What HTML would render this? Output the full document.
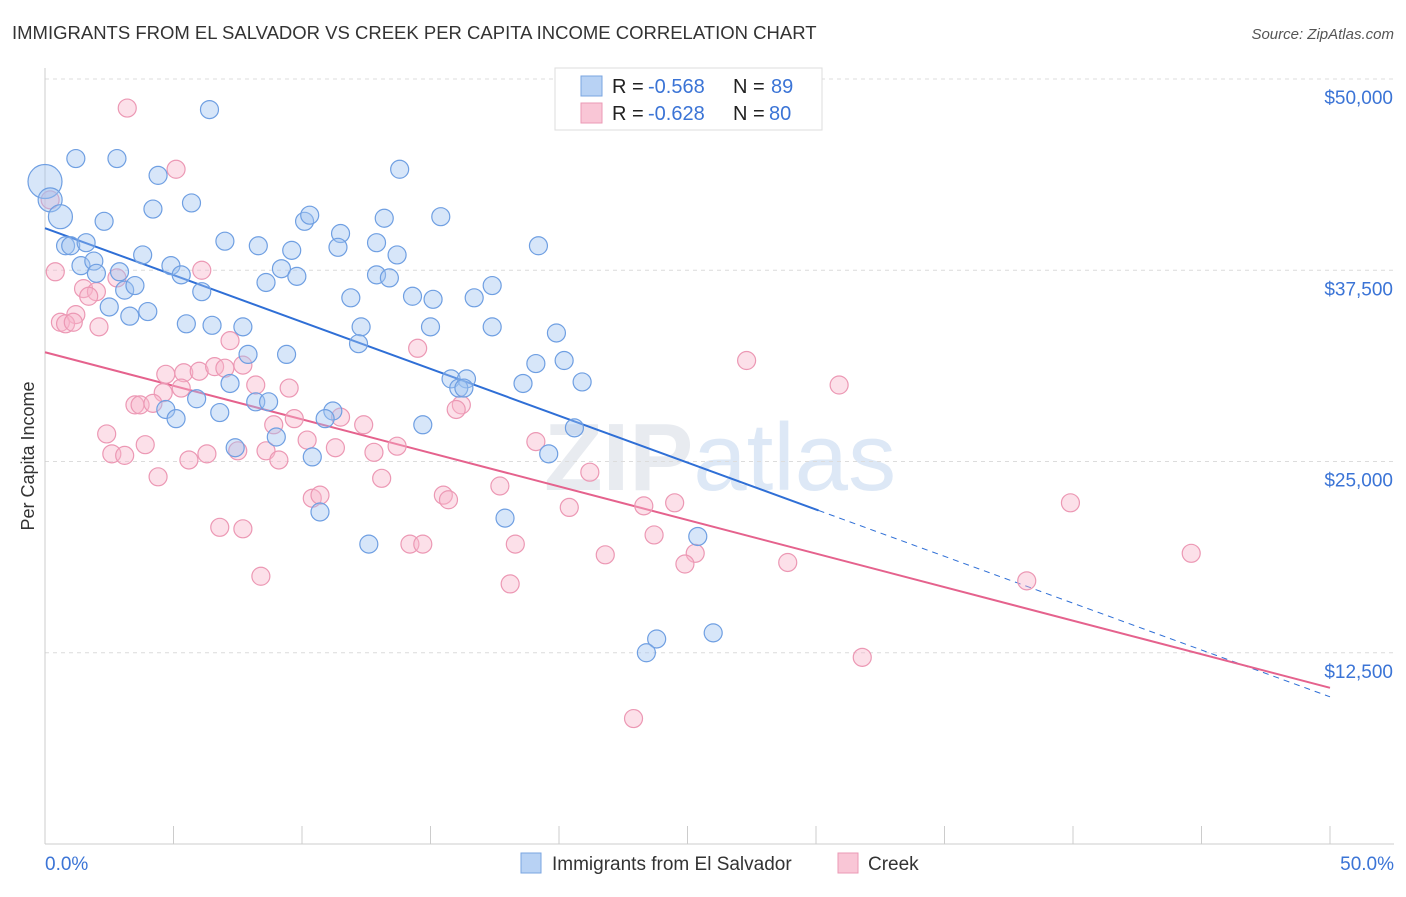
<!DOCTYPE html>
<html><head><meta charset="utf-8"><style>
body{margin:0;background:#fff;font-family:"Liberation Sans",sans-serif;}
svg text{font-family:"Liberation Sans",sans-serif;}
</style></head><body>
<svg id="chart" width="1406" height="892" viewBox="0 0 1406 892" xmlns="http://www.w3.org/2000/svg">
<text x="12" y="39" font-size="18.5" fill="#333">IMMIGRANTS FROM EL SALVADOR VS CREEK PER CAPITA INCOME CORRELATION CHART</text>
<text x="1394" y="39" font-size="15" fill="#555" font-style="italic" text-anchor="end">Source: ZipAtlas.com</text>
<text x="720" y="490" font-size="96" fill="#e8ebf0" text-anchor="middle" font-weight="bold">ZIP<tspan fill="#dde8f6" font-weight="normal">atlas</tspan></text>
<g id="grid"></g>
<g id="axes"></g>
<g id="lines"></g>
<g id="pts"></g>
<text transform="translate(34,456) rotate(-90)" font-size="18" fill="#333" text-anchor="middle">Per Capita Income</text>
<g>
<rect x="555" y="68" width="267" height="62" fill="#fff" stroke="#ddd"/>
<rect x="581" y="76" width="21" height="20" fill="#b8d2f4" stroke="#7aa5e0"/>
<rect x="581" y="103" width="21" height="20" fill="#f9c6d6" stroke="#eb9ab5"/>
<text x="612" y="93" font-size="20" fill="#222">R =</text>
<text x="648" y="93" font-size="20" fill="#3b74d6">-0.568</text>
<text x="733" y="93" font-size="20" fill="#222">N =</text>
<text x="771" y="93" font-size="20" fill="#3b74d6">89</text>
<text x="612" y="120" font-size="20" fill="#222">R =</text>
<text x="648" y="120" font-size="20" fill="#3b74d6">-0.628</text>
<text x="733" y="120" font-size="20" fill="#222">N =</text>
<text x="769" y="120" font-size="20" fill="#3b74d6">80</text>
</g>
<g>
<rect x="521" y="853" width="20" height="20" fill="#b8d2f4" stroke="#7aa5e0"/>
<text x="552" y="870" font-size="19" fill="#333">Immigrants from El Salvador</text>
<rect x="838" y="853" width="20" height="20" fill="#f9c6d6" stroke="#eb9ab5"/>
<text x="868" y="870" font-size="19" fill="#333">Creek</text>
</g>
</svg>
<script>
const yTicks=[12500,25000,37500,50000];
const yTickLabels=["$12,500","$25,000","$37,500","$50,000"];
const xTicks=[0,5,10,15,20,25,30,35,40,45,50];
const blueX=[0,0.2,0.6,1.2,2.8,6.4,4.4,4.2,5.7,2.3,0.8,1.0,1.6,3.8,7.0,8.3,9.6,10.1,10.3,11.5,11.4,12.9,13.2,13.8,15.4,13.7,19.2,1.4,1.9,2.0,2.9,4.9,5.3,8.6,9.2,9.8,12.9,13.4,17.4,3.1,3.5,6.1,2.5,4.0,3.3,11.9,14.3,15.1,16.7,5.5,6.5,7.7,12.3,15.0,17.4,19.9,12.2,7.9,9.4,19.1,20.2,7.2,15.8,16.4,16.1,16.3,18.6,20.9,5.9,8.2,8.7,4.7,5.1,6.8,11.2,10.9,14.7,20.6,9.0,7.4,10.4,19.6,10.7,17.9,12.6,25.4,26.0,23.8,23.4];
const blueY=[43300,42100,41000,44800,44800,48000,43700,41500,41900,40700,39100,39100,39300,38500,39400,39100,38800,40700,41100,39900,39000,39300,40900,44100,41000,38500,39100,37800,38100,37300,37400,37800,37200,36700,37600,37100,37200,37000,36500,36200,36500,36100,35100,34800,34500,35700,35800,35600,35700,34000,33900,33800,33800,33800,33800,33400,32700,32000,32000,31400,31600,30100,30400,30400,29800,29800,30100,30200,29100,28900,28900,28400,27800,28200,28300,27800,27400,27200,26600,25900,25300,25500,21700,21300,19600,20100,13800,13400,12500];
const pinkX=[3.2,5.1,0.2,0.4,6.1,2.8,1.5,2.0,1.7,1.2,0.6,0.8,1.1,2.1,7.2,14.5,27.3,4.7,5.4,6.0,6.6,7.0,7.7,5.3,4.6,8.2,9.5,30.9,3.5,3.7,4.2,16.2,16.0,9.7,11.5,8.9,12.4,2.4,3.9,10.2,11.3,13.7,19.1,2.6,3.1,5.6,6.3,7.5,8.6,9.1,12.8,4.4,13.1,21.2,17.7,15.5,15.7,10.4,10.7,20.4,23.3,24.5,39.9,6.8,7.7,23.7,14.2,14.7,18.3,21.8,25.3,24.9,28.9,44.6,8.4,18.1,38.2,31.8,22.9];
const pinkY=[48100,44100,42100,37400,37500,37000,36300,36100,35800,34600,34100,34000,34100,33800,32900,32400,31600,30700,30800,30900,31200,31100,31300,29800,29500,30000,29800,30000,28700,28700,28800,28700,28400,27800,27900,27400,27400,26800,26100,26400,25900,26000,26300,25500,25400,25100,25500,25700,25700,25100,25600,24000,23900,24300,23400,22800,22500,22600,22800,22000,22100,22300,22300,20700,20600,20200,19600,19600,19600,18900,19000,18300,18400,19000,17500,17000,17200,12200,8200];
const blueTrendX=[0,30.1,50];
const blueTrendY=[40250,21800,9620];
const pinkTrendX=[0,50];
const pinkTrendY=[32140,10210];

const X0=45,X1=1330,YB=844,YT=79;
const sx=v=>X0+(v/50)*(X1-X0);
const sy=v=>YB-(v/50000)*(YB-YT);
const NS="http://www.w3.org/2000/svg";
function mk(tag,parent,attrs){const e=document.createElementNS(NS,tag);for(const k in attrs)e.setAttribute(k,attrs[k]);parent.appendChild(e);return e;}
const grid=document.getElementById('grid'),axes=document.getElementById('axes'),lines=document.getElementById('lines'),pts=document.getElementById('pts');
yTicks.forEach((t,i)=>{
  const l=mk('line',grid,{x1:45,x2:1394,y1:sy(t),y2:sy(t),stroke:'#dcdcdc','stroke-dasharray':'4,4'});
  
  
  const tx=mk('text',grid,{x:1393,y:sy(t)+25,'font-size':19,fill:'#3b74d6','text-anchor':'end'});
  tx.textContent=yTickLabels[i];
  
  
});
const ax=mk('line',axes,{x1:45,x2:1394,y1:YB,y2:YB,stroke:'#ccc'});


const ay=mk('line',axes,{x1:45,x2:45,y1:68,y2:YB,stroke:'#ccc'});


xTicks.forEach(t=>{
  const tk=mk('line',axes,{x1:sx(t),x2:sx(t),y1:YB,y2:YB-18,stroke:'#ccc'});
  
  
});
const xl0=mk('text',axes,{x:45,y:870,'font-size':19,fill:'#3b74d6'});xl0.textContent='0.0%';


const xl1=mk('text',axes,{x:1394,y:870,'font-size':19,fill:'#3b74d6','text-anchor':'end'});xl1.textContent='50.0%';



function dot(x,y,cls,r){
  const c=mk('circle',pts,{cx:sx(x),cy:sy(y),r:r,fill:cls=='b'?'rgba(160,196,240,0.42)':'rgba(248,180,202,0.42)',stroke:cls=='b'?'#6f9fe2':'#ec98b4','stroke-width':1.2});
  return c;
}
pinkX.forEach((x,i)=>{const c=dot(x,pinkY[i],'p',9);
  
  });
blueX.forEach((x,i)=>{const c=dot(x,blueY[i],'b',i==0?17:(i<3?12:9));
  
  });

const bl=mk('line',lines,{x1:sx(blueTrendX[0]),y1:sy(blueTrendY[0]),x2:sx(blueTrendX[1]),y2:sy(blueTrendY[1]),stroke:'#2f6fd6','stroke-width':2});


const bd=mk('line',lines,{x1:sx(blueTrendX[1]),y1:sy(blueTrendY[1]),x2:sx(blueTrendX[2]),y2:sy(blueTrendY[2]),stroke:'#2f6fd6','stroke-width':1,'stroke-dasharray':'6,5'});


const pl=mk('line',lines,{x1:sx(pinkTrendX[0]),y1:sy(pinkTrendY[0]),x2:sx(pinkTrendX[1]),y2:sy(pinkTrendY[1]),stroke:'#e5628d','stroke-width':2});


</script>
</body></html>
